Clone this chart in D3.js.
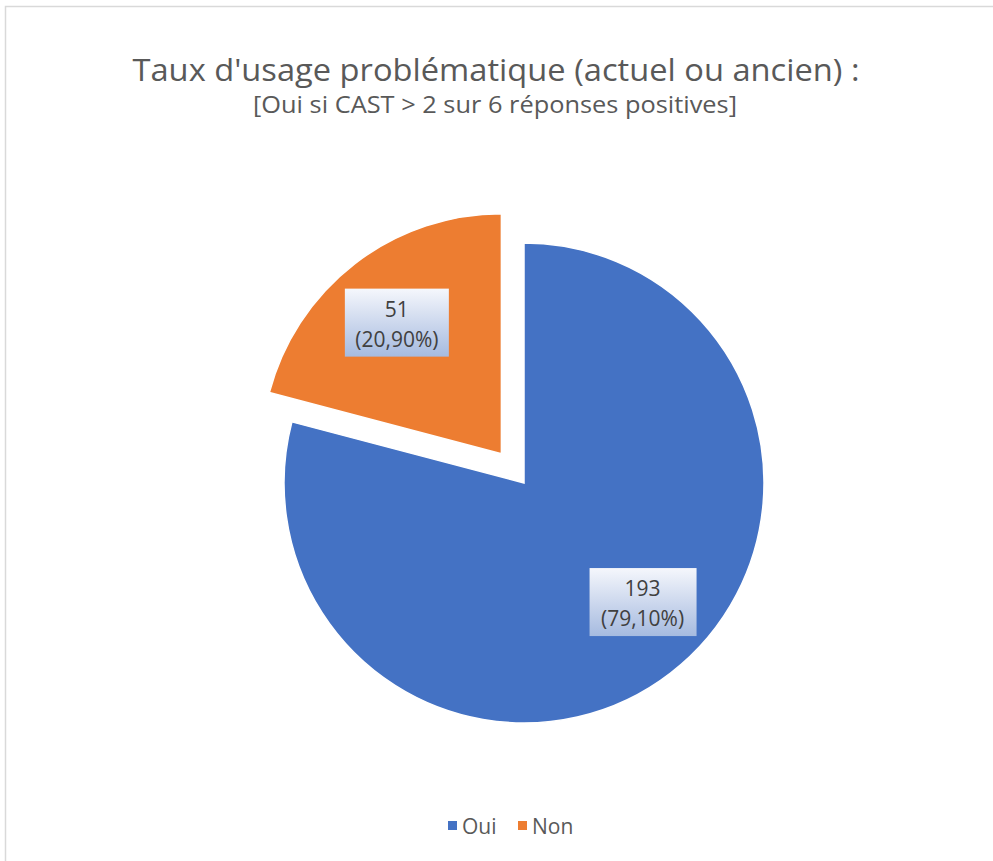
<!DOCTYPE html>
<html>
<head>
<meta charset="utf-8">
<script src="https://cdn.jsdelivr.net/npm/d3@7"></script>
<style>
	body { margin: 0; background: #fff; }
	text { font-family: "Open Sans", "Noto Sans", sans-serif; }
</style>
</head>
<body>
<div id="graph"></div>
<script>
// data
var categories = ["Oui", "Non"];
var counts = [193, 51];
var percents = ["79,10%", "20,90%"];
var colors = ["#4472c4", "#ed7d31"];

var title = "Taux d'usage problématique (actuel ou ancien) :";
var subtitle = "[Oui si CAST > 2 sur 6 réponses positives]";

var w = 993;
var h = 861;
var cx = 524, cy = 483;
var r = 240;
var explode = 37;   // orange slice pulled out

var svg = d3.select("#graph")
	.append("svg")
	.attr("width", w)
	.attr("height", h);

// chart frame
svg.append("rect")
	.attr("x", 5.5)
	.attr("y", 6.5)
	.attr("width", w + 10)
	.attr("height", h + 10)
	.attr("fill", "none")
	.attr("stroke", "#d9d9d9")
	.attr("stroke-width", 1.5);

svg.append("text")
	.attr("x", 496)
	.attr("y", 81)
	.attr("text-anchor", "middle")
	.attr("fill", "#595959")
	.attr("textLength", 727)
	.attr("lengthAdjust", "spacingAndGlyphs")
	.style("font-size", "31px")
	.text(title);

svg.append("text")
	.attr("x", 495)
	.attr("y", 113)
	.attr("text-anchor", "middle")
	.attr("fill", "#595959")
	.attr("textLength", 484)
	.attr("lengthAdjust", "spacingAndGlyphs")
	.style("font-size", "23px")
	.text(subtitle);

var defs = svg.append("defs");
var grad = defs.append("linearGradient")
	.attr("id", "lblGrad")
	.attr("x1", 0).attr("y1", 0)
	.attr("x2", 0).attr("y2", 1);
grad.append("stop").attr("offset", "0%").attr("stop-color", "#f5f7fc");
grad.append("stop").attr("offset", "55%").attr("stop-color", "#c9d5ec");
grad.append("stop").attr("offset", "100%").attr("stop-color", "#a6bbe0");

var data = categories.map(function (c, i) {
	return {name: c, value: counts[i], pct: percents[i], color: colors[i]};
});

var pie = d3.pie()
	.sort(null)
	.value(function (d) { return d.value; });

var arc = d3.arc()
	.innerRadius(0)
	.outerRadius(r);

var labelArc = d3.arc()
	.innerRadius(r * 0.7)
	.outerRadius(r * 0.7);

var arcs = pie(data);

function offset(d) {
	if (d.index == 0) return [0, 0];
	var a = (d.startAngle + d.endAngle) / 2;
	return [Math.sin(a) * explode, -Math.cos(a) * explode];
}

var slices = svg.append("g")
	.attr("transform", "translate(" + cx + "," + cy + ")");

slices.selectAll("path")
	.data(arcs)
	.enter()
	.append("path")
	.attr("transform", function (d) {
		var o = offset(d);
		return "translate(" + o[0] + "," + o[1] + ")";
	})
	.attr("d", arc)
	.attr("fill", function (d) { return d.data.color; })
	.attr("stroke", "#fff")
	.attr("stroke-width", 1.5);

// labels (Excel best fit nudges the big one a bit)
var nudge = [[16, -14], [-2, 2]];
var labels = slices.selectAll("g.lbl")
	.data(arcs)
	.enter()
	.append("g")
	.attr("class", "lbl")
	.attr("transform", function (d) {
		var c = labelArc.centroid(d);
		var o = offset(d);
		return "translate(" + (c[0] + o[0] + nudge[d.index][0]) + "," + (c[1] + o[1] + nudge[d.index][1]) + ")";
	});

labels.append("rect")
	.attr("x", function (d) { return d.index == 0 ? -53 : -52; })
	.attr("y", -34)
	.attr("width", function (d) { return d.index == 0 ? 107 : 104; })
	.attr("height", 68)
	.attr("fill", "url(#lblGrad)");

labels.append("text")
	.attr("text-anchor", "middle")
	.attr("y", -6)
	.attr("fill", "#404040")
	.style("font-size", "21px")
	.text(function (d) { return d.data.value; });

labels.append("text")
	.attr("text-anchor", "middle")
	.attr("y", 24)
	.attr("fill", "#404040")
	.style("font-size", "21px")
	.text(function (d) { return "(" + d.data.pct + ")"; });

// legend
var legend = svg.append("g")
	.attr("transform", "translate(448,0)");

var items = legend.selectAll("g")
	.data(data)
	.enter()
	.append("g")
	.attr("transform", function (d, i) { return "translate(" + (i * 70) + ",0)"; });

items.append("rect")
	.attr("x", 0)
	.attr("y", 821)
	.attr("width", 9)
	.attr("height", 9)
	.attr("fill", function (d) { return d.color; });

items.append("text")
	.attr("x", 14)
	.attr("y", 834)
	.attr("fill", "#595959")
	.style("font-size", "21px")
	.text(function (d) { return d.name; });
</script>
</body>
</html>
